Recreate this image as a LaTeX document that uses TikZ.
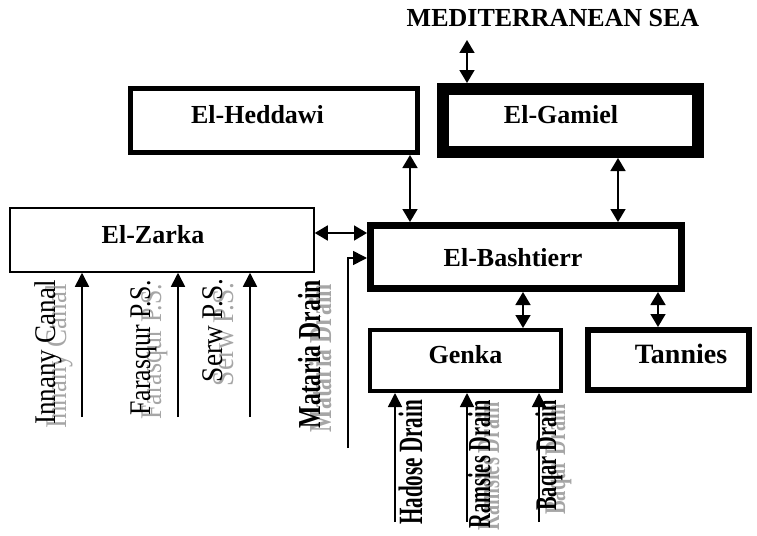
\documentclass[tikz,border=0pt]{standalone}
\usepackage{fontspec}
\setmainfont{Liberation Serif}
\usetikzlibrary{arrows.meta, positioning, calc}

\begin{document}
\begin{tikzpicture}[
    x = 1pt, y = -1pt,
    font = \bfseries\fontsize{26}{30}\selectfont,
    lake/.style  = {draw, inner sep=0pt, text depth=12pt},
    dbl/.style   = {{Triangle[length=13pt, width=15pt]}-{Triangle[length=13pt, width=15pt]}, line width=1.6pt},
    one/.style   = {-{Triangle[length=14pt, width=14pt]}, line width=1.6pt},
    thin/.style  = {rotate=90, anchor=base east, inner sep=0pt, font=\fontsize{30}{34}\selectfont},
    heavy/.style = {rotate=90, anchor=base east, inner sep=0pt, font=\bfseries\fontsize{32}{36}\selectfont},
    ghost/.style = {text=black!35}
  ]
  \useasboundingbox (0,0) rectangle (757,535);

  % lakes / basins
  \node[lake, line width=5pt,   minimum width=287pt, minimum height=64pt] (heddawi) at (274,120.5) {El-Heddawi\hspace*{33pt}};
  \node[lake, line width=12pt,  minimum width=255pt, minimum height=63pt] (gamiel)  at (570.5,120.5) {El-Gamiel\hspace*{19pt}};
  \node[lake, line width=1.5pt, minimum width=304pt, minimum height=64pt] (zarka)   at (162,240) {El-Zarka\hspace*{18pt}};
  \node[lake, line width=7pt,   minimum width=311pt, minimum height=63pt, text depth=0pt] (bash) at (526,257) {El-Bashtierr\hspace*{26pt}};
  \node[lake, line width=4pt,   minimum width=191pt, minimum height=61pt] (genka)   at (465.5,360.5) {Genka};
  \node[lake, line width=6pt,   minimum width=161pt, minimum height=60pt, font=\bfseries\fontsize{28}{32}\selectfont] (tannies) at (668.5,360) {\hspace*{25pt}Tannies};

  \node[anchor=base, inner sep=0pt] (sea) at (553,27) {MEDITERRANEAN SEA};

  % exchanges between basins
  \coordinate (seaport) at (467,40);
  \coordinate (hb) at (410,0);
  \coordinate (gb) at (618,0);
  \coordinate (zb) at (0,233);
  \coordinate (bg) at (523,0);
  \coordinate (bt) at (658,0);
  \draw[dbl] (seaport) -- (seaport |- gamiel.north);
  \draw[dbl] (heddawi.south -| hb) -- (bash.north -| hb);
  \draw[dbl] (gamiel.south -| gb) -- (bash.north -| gb);
  \draw[dbl] (zarka.east |- zb) -- (bash.west |- zb);
  \draw[dbl] (bash.south -| bg) -- (genka.north -| bg);
  \draw[dbl] (bash.south -| bt) -- (tannies.north -| bt);

  % inflows
  \coordinate (mat)   at (348,448);
  \coordinate (matin) at (0,258);
  \draw[one] (mat) |- (bash.west |- matin);
  \foreach \x/\n in {82/innany, 178/farasqur, 250/serw} {
    \coordinate (\n) at (\x,417);
    \draw[one] (\n) -- (\n |- zarka.south);
  }
  \foreach \x/\n in {395/hadose, 467/ramsies, 539/baqar} {
    \coordinate (\n) at (\x,522);
    \draw[one] (\n) -- (\n |- genka.south);
  }

  % source labels (grey copy behind)
  \node[thin, ghost] (innanyG)   at (66,284)  {\scalebox{0.9}[1]{Innany Canal}};
  \node[thin]        (innanyT)   at (55,280)  {\scalebox{0.9}[1]{Innany Canal}};
  \node[thin, ghost] (farasqurG) at (161,284) {\scalebox{0.86}[1]{Farasqur P.S.}};
  \node[thin]        (farasqurT) at (150,280) {\scalebox{0.86}[1]{Farasqur P.S.}};
  \node[thin, ghost] (serwG)     at (233,282) {\scalebox{0.91}[1]{Serw P.S.}};
  \node[thin]        (serwT)     at (222,278) {\scalebox{0.91}[1]{Serw P.S.}};
  \node[heavy, ghost] (matG)     at (331,284) {\scalebox{0.74}[1]{Mataria Drain}};
  \node[heavy]        (matT)     at (320,280) {\scalebox{0.74}[1]{Mataria Drain}};

  \node[heavy, font=\bfseries\fontsize{34}{38}\selectfont] (hadoseT) at (422,400) {\scalebox{0.62}[1]{Hadose Drain}};
  \node[heavy, ghost] (ramsiesG) at (499,402) {\scalebox{0.635}[1]{Ramsies Drain}};
  \node[heavy]        (ramsiesT) at (490,400) {\scalebox{0.635}[1]{Ramsies Drain}};
  \node[heavy, ghost, font=\bfseries\fontsize{30}{34}\selectfont] (baqarG) at (565,404) {\scalebox{0.68}[1]{Baqar Drain}};
  \node[heavy, font=\bfseries\fontsize{30}{34}\selectfont]        (baqarT) at (556,400) {\scalebox{0.68}[1]{Baqar Drain}};
\end{tikzpicture}
\end{document}
